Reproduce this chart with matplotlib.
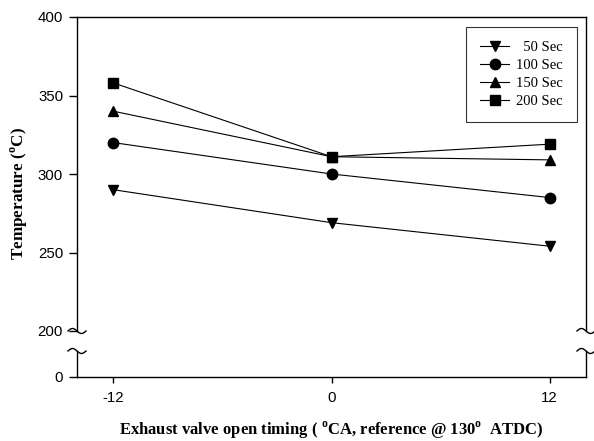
import numpy as np
import matplotlib
matplotlib.use("Agg")
import matplotlib.pyplot as plt
from matplotlib.lines import Line2D

x_timing = [-12, 0, 12]
temp_50 = [290, 269, 254]
temp_100 = [320, 300, 285]
temp_150 = [340, 311, 309]
temp_200 = [358, 311, 319]
series_labels = ["  50 Sec", "100 Sec", "150 Sec", "200 Sec"]
series_markers = ["v", "o", "^", "s"]
x_ticks = [-12, 0, 12]
y_ticks_top = [200, 250, 300, 350, 400]

plt.rcParams['mathtext.fontset'] = 'custom'
plt.rcParams['mathtext.rm'] = 'Liberation Serif'
plt.rcParams['mathtext.bf'] = 'Liberation Serif:bold'

W, H = 594, 441
fig = plt.figure(figsize=(W/100, H/100), dpi=100)

def fx(px):
    return px / W
def fy(py):
    return 1 - py / H

L, R = 77, 586
ax = fig.add_axes([fx(L), fy(331), fx(R) - fx(L), fy(17) - fy(331)])
axb = fig.add_axes([fx(L), fy(377), fx(R) - fx(L), fy(351) - fy(377)])

tick_font = dict(family='Liberation Sans', size=10.8)
for a in (ax, axb):
    a.set_xlim(-14, 14)
    for s in a.spines.values():
        s.set_linewidth(1.0)
        s.set_color('black')

ax.set_ylim(200, 400)
ax.spines['bottom'].set_visible(False)
ax.set_yticks(y_ticks_top)
ax.set_yticklabels([str(v) for v in y_ticks_top], fontdict=tick_font)
ax.tick_params(axis='y', direction='out', length=6, width=1, pad=4)
ax.tick_params(axis='x', bottom=False, labelbottom=False)

axb.set_ylim(0, 1)
axb.spines['top'].set_visible(False)
axb.set_yticks([0])
axb.set_yticklabels(['0'], fontdict=tick_font)
axb.set_xticks(x_ticks)
axb.set_xticklabels([str(v) for v in x_ticks], fontdict=tick_font)
axb.tick_params(axis='y', direction='out', length=6, width=1, pad=4)
axb.tick_params(axis='x', direction='out', length=4, width=1, pad=6)
axb.patch.set_alpha(0)

all_series = [temp_50, temp_100, temp_150, temp_200]
handles = []
for vals, lab, mk in zip(all_series, series_labels, series_markers):
    h, = ax.plot(x_timing, vals, color='black', linewidth=0.8, marker=mk,
                 markersize=7.5, markerfacecolor='black', markeredgecolor='black',
                 label=lab, clip_on=False)
    handles.append(h)

leg = fig.legend(handles=handles, loc='upper right',
                 bbox_to_anchor=(fx(577), fy(27)),
                 prop=dict(family='Liberation Serif', size=10.5),
                 frameon=True, fancybox=False, edgecolor='black',
                 handlelength=2.0, handletextpad=0.5, labelspacing=0.32,
                 borderpad=0.95, borderaxespad=0)
leg.get_frame().set_linewidth(0.8)
leg._legend_box.align = "right"

# break marks
t = np.linspace(-1, 1, 30)
for xc in (L, R):
    xs = xc + 9 * t
    ys = 331 + 2.5 * np.sin(np.pi * t)
    fig.add_artist(Line2D(fx(xs), fy(ys), color='black', linewidth=1.0,
                          transform=fig.transFigure))
    ys2 = 351 + 2.5 * np.sin(np.pi * t)
    fig.add_artist(Line2D(fx(xs), fy(ys2), color='black', linewidth=1.0,
                          transform=fig.transFigure))

fig.text(fx(19), fy(194), r'Temperature ($^{\mathbf{o}}$C)', rotation=90,
         ha='center', va='center', family='Liberation Serif', weight='bold', size=12.3)
fig.text(fx(331), fy(430), r'Exhaust valve open timing ( $^{\mathbf{o}}$CA, reference @ 130$^{\mathbf{o}}$  ATDC)',
         ha='center', va='center', family='Liberation Serif', weight='bold', size=12)

fig.savefig('out.png', dpi=100)
